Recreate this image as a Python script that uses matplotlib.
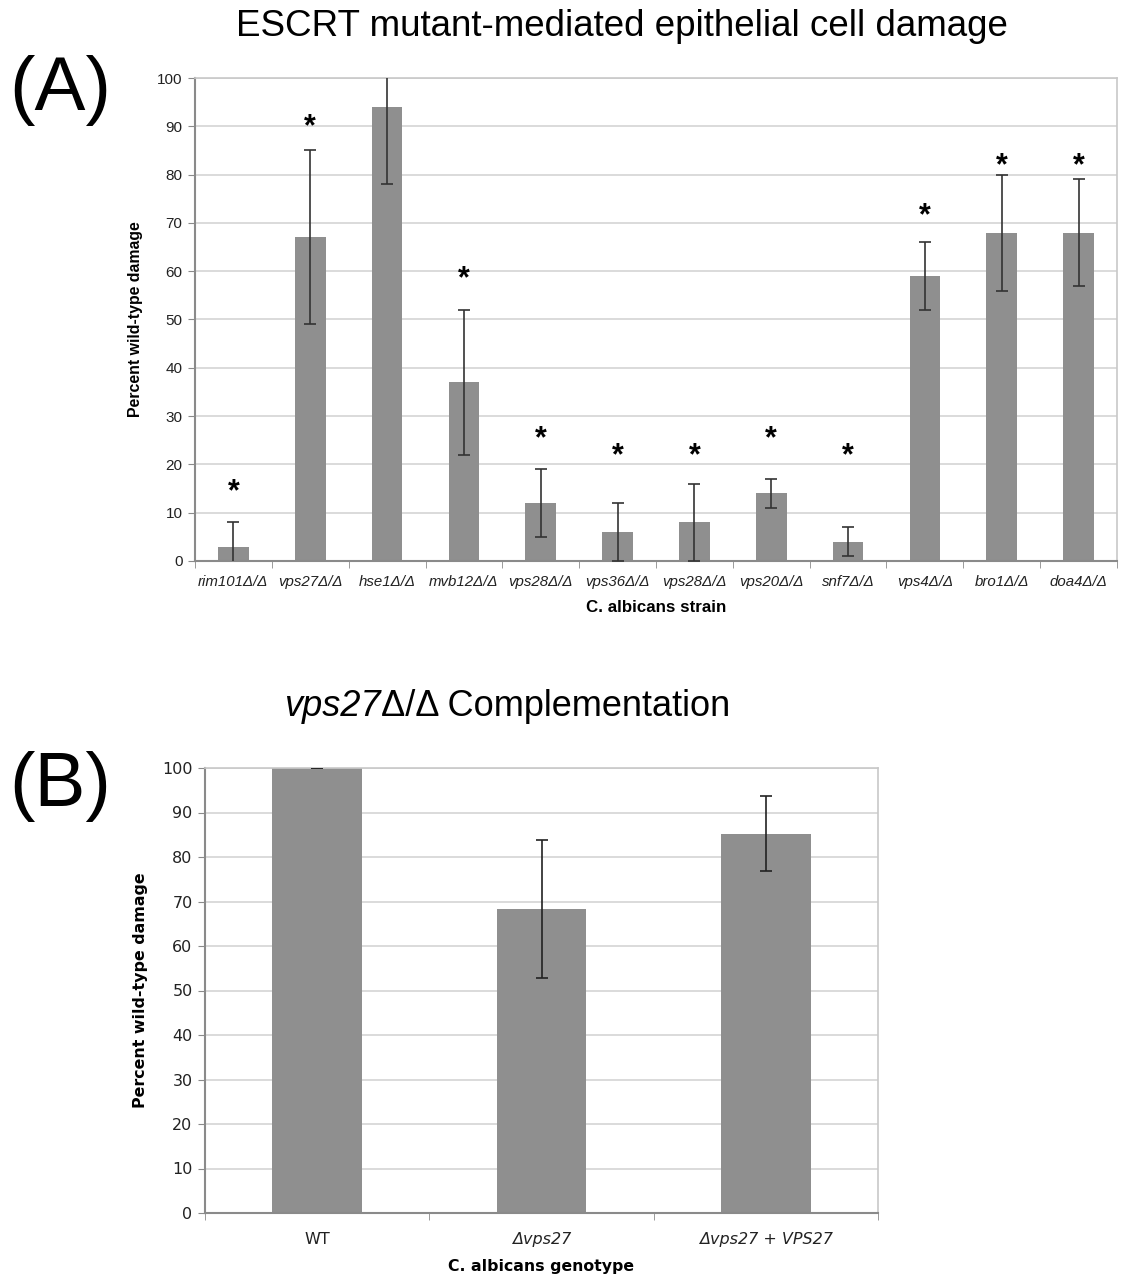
import matplotlib
matplotlib.use("Agg")
import matplotlib.pyplot as plt
import numpy as np

# ---------------- data ----------------
strains = ["rim101Δ/Δ", "vps27Δ/Δ", "hse1Δ/Δ", "mvb12Δ/Δ", "vps28Δ/Δ", "vps36Δ/Δ",
           "vps28Δ/Δ", "vps20Δ/Δ", "snf7Δ/Δ", "vps4Δ/Δ", "bro1Δ/Δ", "doa4Δ/Δ"]
damage_a = [3, 67, 94, 37, 12, 6, 8, 14, 4, 59, 68, 68]
err_a = [5, 18, 16, 15, 7, 6, 8, 3, 3, 7, 12, 11]
significant = [True, True, False, True, True, True, True, True, True, True, True, True]
star_y = [16, 91.5, None, 60, 27, 23.5, 23.5, 27, 23.5, 73, 83.5, 83.5]

genotypes = ["WT", "Δvps27", "Δvps27 + VPS27"]
damage_b = [100, 68.3, 85.2]
err_b = [0, 15.5, 8.4]

yticks = list(range(0, 101, 10))

BAR = "#8f8f8f"
GRID = "#d4d4d4"
SPINE = "#8a8a8a"

plt.rcParams["font.family"] = ["Liberation Sans", "DejaVu Sans"]

fig = plt.figure(figsize=(11.25, 12.79), dpi=100)

# ---------------- panel A ----------------
axA = fig.add_axes([195 / 1125, 1 - 561 / 1279, (1117 - 195) / 1125, (561 - 78) / 1279])
xa = np.arange(len(strains))
axA.bar(xa, damage_a, width=0.4, color=BAR, zorder=2)
axA.errorbar(xa, damage_a, yerr=err_a, fmt="none", ecolor="#333333",
             elinewidth=1.2, capsize=4.5, capthick=1.2, zorder=3)
for i, (s, y) in enumerate(zip(significant, star_y)):
    if s:
        axA.annotate("*", (xa[i], y), xytext=(0, -6), textcoords="offset points",
                     ha="center", va="center", fontsize=22, fontweight="bold",
                     color="black", zorder=4)
axA.set_xlim(-0.5, len(strains) - 0.5)
axA.set_ylim(0, 100)
axA.set_yticks(yticks)
axA.set_yticklabels([str(t) for t in yticks], fontsize=11, color="#222222")
axA.set_xticks(xa)
axA.set_xticklabels(strains, fontsize=10.8, style="italic", color="#222222")
axA.tick_params(axis="x", length=0, pad=10)
axA.set_xticks(np.arange(-0.5, len(strains), 1), minor=True)
axA.tick_params(axis="x", which="minor", length=5, color=SPINE, direction="out")
axA.tick_params(axis="y", length=5, color=SPINE, direction="out", pad=4)
axA.yaxis.grid(True, color=GRID, linewidth=1.2, zorder=0)
axA.set_axisbelow(True)
for side in ["left", "bottom"]:
    axA.spines[side].set_color(SPINE)
    axA.spines[side].set_linewidth(1.5)
for side in ["top", "right"]:
    axA.spines[side].set_color("#c8c8c8")
    axA.spines[side].set_linewidth(1.2)
axA.set_xlabel("C. albicans strain", fontsize=12.2, fontweight="bold", labelpad=8)
axA.set_ylabel("Percent wild-type damage", fontsize=11.4, fontweight="bold", labelpad=10)

fig.text(622 / 1125, 1 - 27 / 1279, "ESCRT mutant-mediated epithelial cell damage",
         ha="center", va="center", fontsize=26.5)
fig.text(60 / 1125, 1 - 90 / 1279, "(A)", ha="center", va="center", fontsize=55)

# ---------------- panel B ----------------
axB = fig.add_axes([205 / 1125, 1 - 1213 / 1279, (878 - 205) / 1125, (1213 - 768) / 1279])
xb = np.arange(len(genotypes))
axB.bar(xb, damage_b, width=0.4, color=BAR, zorder=2)
axB.errorbar(xb, damage_b, yerr=err_b, fmt="none", ecolor="#222222",
             elinewidth=1.2, capsize=4.5, capthick=1.2, zorder=3)
axB.set_xlim(-0.5, len(genotypes) - 0.5)
axB.set_ylim(0, 100)
axB.set_yticks(yticks)
axB.set_yticklabels([str(t) for t in yticks], fontsize=11.5, color="#222222",
                    family="DejaVu Sans")
axB.set_xticks(xb)
axB.set_xticklabels(genotypes, fontsize=11.5, color="#222222", family="DejaVu Sans")
for lbl in axB.get_xticklabels()[1:]:
    lbl.set_style("italic")
axB.tick_params(axis="x", length=0, pad=14)
axB.set_xticks(np.arange(-0.5, len(genotypes), 1), minor=True)
axB.tick_params(axis="x", which="minor", length=5, color=SPINE, direction="out")
axB.tick_params(axis="y", length=5, color=SPINE, direction="out", pad=4)
axB.yaxis.grid(True, color=GRID, linewidth=1.2, zorder=0)
axB.set_axisbelow(True)
for side in ["left", "bottom"]:
    axB.spines[side].set_color(SPINE)
    axB.spines[side].set_linewidth(1.5)
for side in ["top", "right"]:
    axB.spines[side].set_color("#c8c8c8")
    axB.spines[side].set_linewidth(1.2)
axB.set_xlabel("C. albicans genotype", fontsize=11.3, fontweight="bold",
               family="DejaVu Sans", labelpad=8)
axB.set_ylabel("Percent wild-type damage", fontsize=11.4, fontweight="bold",
               family="DejaVu Sans", labelpad=10)

# title of panel B: italic gene name followed by upright text, centred as a whole
renderer = fig.canvas.get_renderer()
t1 = fig.text(0, 1 - 707 / 1279, "vps27", ha="left", va="center", fontsize=26,
              style="italic")
t2 = fig.text(0, 1 - 707 / 1279, "Δ/Δ Complementation", ha="left", va="center",
              fontsize=26)
w1 = t1.get_window_extent(renderer).width
w2 = t2.get_window_extent(renderer).width
x0 = 507 - (w1 + w2) / 2
t1.set_x(x0 / 1125)
t2.set_x((x0 + w1) / 1125)

fig.text(60 / 1125, 1 - 786 / 1279, "(B)", ha="center", va="center", fontsize=55)

fig.savefig("out.png", dpi=100)
